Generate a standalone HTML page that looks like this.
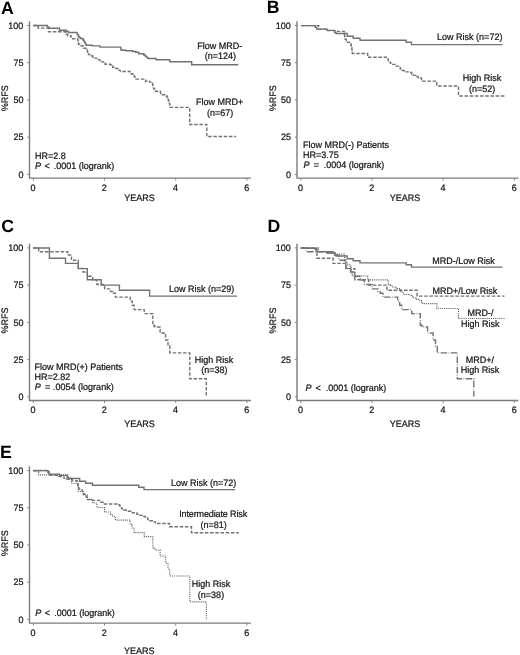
<!DOCTYPE html>
<html><head><meta charset="utf-8"><title>RFS curves</title>
<style>
html,body{margin:0;padding:0;background:#fff;}
body{width:520px;height:655px;overflow:hidden;}
svg{display:block;will-change:transform;}
text{font-family:"Liberation Sans",sans-serif;text-rendering:geometricPrecision;}
</style></head><body>
<svg width="520" height="655" viewBox="0 0 520 655">
<rect width="520" height="655" fill="#fff"/>
<g font-family="Liberation Sans, sans-serif" font-size="9.0" fill="#141414" stroke="#141414" stroke-width="0.22">
<g font-weight="bold" font-size="17.7" fill="#000" stroke="none"><text x="1.1" y="13.6">A</text><text x="266.8" y="12.7">B</text><text x="1.2" y="232.1">C</text><text x="267.4" y="231.9">D</text><text x="-0.1" y="458.1">E</text></g>
<path d="M29.5 21.3 V178.1 H250.9" fill="none" stroke="#7c7c7c" stroke-width="1.4"/>
<path d="M27.2 25.50 H29.5 M27.2 62.73 H29.5 M27.2 99.95 H29.5 M27.2 137.18 H29.5 M27.2 174.40 H29.5 M33.30 178.1 V180.6 M104.50 178.1 V180.6 M175.70 178.1 V180.6 M246.90 178.1 V180.6 " fill="none" stroke="#7c7c7c" stroke-width="0.9"/>
<text transform="matrix(1 0 0 1.04 0 -1.148)" x="23.4" y="28.70" text-anchor="end">100</text>
<text transform="matrix(1 0 0 1.04 0 -2.637)" x="23.4" y="65.93" text-anchor="end">75</text>
<text transform="matrix(1 0 0 1.04 0 -4.126)" x="23.4" y="103.15" text-anchor="end">50</text>
<text transform="matrix(1 0 0 1.04 0 -5.615)" x="23.4" y="140.38" text-anchor="end">25</text>
<text transform="matrix(1 0 0 1.04 0 -7.104)" x="23.4" y="177.60" text-anchor="end">0</text>
<text transform="matrix(1 0 0 1.04 0 -7.624)" x="33.10" y="190.6" text-anchor="middle">0</text>
<text transform="matrix(1 0 0 1.04 0 -7.624)" x="104.30" y="190.6" text-anchor="middle">2</text>
<text transform="matrix(1 0 0 1.04 0 -7.624)" x="175.50" y="190.6" text-anchor="middle">4</text>
<text transform="matrix(1 0 0 1.04 0 -7.624)" x="246.70" y="190.6" text-anchor="middle">6</text>
<text transform="translate(8.1 98.2) rotate(-90) scale(1 1.04)" text-anchor="middle">%RFS</text>
<path d="M297.0 21.3 V178.1 H518.4" fill="none" stroke="#7c7c7c" stroke-width="1.4"/>
<path d="M294.7 25.50 H297.0 M294.7 62.73 H297.0 M294.7 99.95 H297.0 M294.7 137.18 H297.0 M294.7 174.40 H297.0 M300.80 178.1 V180.6 M372.00 178.1 V180.6 M443.20 178.1 V180.6 M514.40 178.1 V180.6 " fill="none" stroke="#7c7c7c" stroke-width="0.9"/>
<text transform="matrix(1 0 0 1.04 0 -1.148)" x="290.9" y="28.70" text-anchor="end">100</text>
<text transform="matrix(1 0 0 1.04 0 -2.637)" x="290.9" y="65.93" text-anchor="end">75</text>
<text transform="matrix(1 0 0 1.04 0 -4.126)" x="290.9" y="103.15" text-anchor="end">50</text>
<text transform="matrix(1 0 0 1.04 0 -5.615)" x="290.9" y="140.38" text-anchor="end">25</text>
<text transform="matrix(1 0 0 1.04 0 -7.104)" x="290.9" y="177.60" text-anchor="end">0</text>
<text transform="matrix(1 0 0 1.04 0 -7.624)" x="300.60" y="190.6" text-anchor="middle">0</text>
<text transform="matrix(1 0 0 1.04 0 -7.624)" x="371.80" y="190.6" text-anchor="middle">2</text>
<text transform="matrix(1 0 0 1.04 0 -7.624)" x="443.00" y="190.6" text-anchor="middle">4</text>
<text transform="matrix(1 0 0 1.04 0 -7.624)" x="514.20" y="190.6" text-anchor="middle">6</text>
<text transform="translate(275.6 98.2) rotate(-90) scale(1 1.04)" text-anchor="middle">%RFS</text>
<path d="M29.5 243.70000000000002 V400.5 H250.9" fill="none" stroke="#7c7c7c" stroke-width="1.4"/>
<path d="M27.2 247.90 H29.5 M27.2 285.12 H29.5 M27.2 322.35 H29.5 M27.2 359.58 H29.5 M27.2 396.80 H29.5 M33.30 400.5 V403.0 M104.50 400.5 V403.0 M175.70 400.5 V403.0 M246.90 400.5 V403.0 " fill="none" stroke="#7c7c7c" stroke-width="0.9"/>
<text transform="matrix(1 0 0 1.04 0 -10.044)" x="23.4" y="251.10" text-anchor="end">100</text>
<text transform="matrix(1 0 0 1.04 0 -11.533)" x="23.4" y="288.32" text-anchor="end">75</text>
<text transform="matrix(1 0 0 1.04 0 -13.022)" x="23.4" y="325.55" text-anchor="end">50</text>
<text transform="matrix(1 0 0 1.04 0 -14.511)" x="23.4" y="362.78" text-anchor="end">25</text>
<text transform="matrix(1 0 0 1.04 0 -16.000)" x="23.4" y="400.00" text-anchor="end">0</text>
<text transform="matrix(1 0 0 1.04 0 -16.520)" x="33.10" y="413.0" text-anchor="middle">0</text>
<text transform="matrix(1 0 0 1.04 0 -16.520)" x="104.30" y="413.0" text-anchor="middle">2</text>
<text transform="matrix(1 0 0 1.04 0 -16.520)" x="175.50" y="413.0" text-anchor="middle">4</text>
<text transform="matrix(1 0 0 1.04 0 -16.520)" x="246.70" y="413.0" text-anchor="middle">6</text>
<text transform="translate(8.1 320.6) rotate(-90) scale(1 1.04)" text-anchor="middle">%RFS</text>
<path d="M297.0 243.70000000000002 V400.5 H518.4" fill="none" stroke="#7c7c7c" stroke-width="1.4"/>
<path d="M294.7 247.90 H297.0 M294.7 285.12 H297.0 M294.7 322.35 H297.0 M294.7 359.58 H297.0 M294.7 396.80 H297.0 M300.80 400.5 V403.0 M372.00 400.5 V403.0 M443.20 400.5 V403.0 M514.40 400.5 V403.0 " fill="none" stroke="#7c7c7c" stroke-width="0.9"/>
<text transform="matrix(1 0 0 1.04 0 -10.044)" x="290.9" y="251.10" text-anchor="end">100</text>
<text transform="matrix(1 0 0 1.04 0 -11.533)" x="290.9" y="288.32" text-anchor="end">75</text>
<text transform="matrix(1 0 0 1.04 0 -13.022)" x="290.9" y="325.55" text-anchor="end">50</text>
<text transform="matrix(1 0 0 1.04 0 -14.511)" x="290.9" y="362.78" text-anchor="end">25</text>
<text transform="matrix(1 0 0 1.04 0 -16.000)" x="290.9" y="400.00" text-anchor="end">0</text>
<text transform="matrix(1 0 0 1.04 0 -16.520)" x="300.60" y="413.0" text-anchor="middle">0</text>
<text transform="matrix(1 0 0 1.04 0 -16.520)" x="371.80" y="413.0" text-anchor="middle">2</text>
<text transform="matrix(1 0 0 1.04 0 -16.520)" x="443.00" y="413.0" text-anchor="middle">4</text>
<text transform="matrix(1 0 0 1.04 0 -16.520)" x="514.20" y="413.0" text-anchor="middle">6</text>
<text transform="translate(275.6 320.6) rotate(-90) scale(1 1.04)" text-anchor="middle">%RFS</text>
<path d="M29.5 466.3 V623.1 H250.9" fill="none" stroke="#7c7c7c" stroke-width="1.4"/>
<path d="M27.2 470.50 H29.5 M27.2 507.73 H29.5 M27.2 544.95 H29.5 M27.2 582.17 H29.5 M27.2 619.40 H29.5 M33.30 623.1 V625.6 M104.50 623.1 V625.6 M175.70 623.1 V625.6 M246.90 623.1 V625.6 " fill="none" stroke="#7c7c7c" stroke-width="0.9"/>
<text transform="matrix(1 0 0 1.04 0 -18.948)" x="23.4" y="473.70" text-anchor="end">100</text>
<text transform="matrix(1 0 0 1.04 0 -20.437)" x="23.4" y="510.93" text-anchor="end">75</text>
<text transform="matrix(1 0 0 1.04 0 -21.926)" x="23.4" y="548.15" text-anchor="end">50</text>
<text transform="matrix(1 0 0 1.04 0 -23.415)" x="23.4" y="585.38" text-anchor="end">25</text>
<text transform="matrix(1 0 0 1.04 0 -24.904)" x="23.4" y="622.60" text-anchor="end">0</text>
<text transform="matrix(1 0 0 1.04 0 -25.424)" x="33.10" y="635.6" text-anchor="middle">0</text>
<text transform="matrix(1 0 0 1.04 0 -25.424)" x="104.30" y="635.6" text-anchor="middle">2</text>
<text transform="matrix(1 0 0 1.04 0 -25.424)" x="175.50" y="635.6" text-anchor="middle">4</text>
<text transform="matrix(1 0 0 1.04 0 -25.424)" x="246.70" y="635.6" text-anchor="middle">6</text>
<text transform="translate(8.1 543.2) rotate(-90) scale(1 1.04)" text-anchor="middle">%RFS</text>
<path d="M33.20 25.50 L47.30 25.50 L47.30 26.90 L48.80 26.90 L48.80 28.30 L59.40 28.30 L59.40 30.20 L66.50 30.20 L66.50 31.50 L68.50 31.50 L68.50 32.50 L76.20 32.50 L76.97 32.50 L76.97 33.83 L77.73 33.83 L77.73 35.17 L78.50 35.17 L78.50 36.50 L79.45 36.50 L79.45 37.50 L80.40 37.50 L80.40 38.50 L82.30 38.50 L82.30 38.80 L83.05 38.80 L83.05 40.00 L83.80 40.00 L83.80 41.20 L84.60 41.20 L84.60 42.53 L85.40 42.53 L85.40 43.87 L86.20 43.87 L86.20 45.20 L92.30 45.20 L92.30 45.90 L100.00 45.90 L100.00 47.10 L120.80 47.10 L120.80 49.80 L122.00 49.80 L122.00 50.20 L125.80 50.20 L125.80 50.80 L132.70 50.80 L132.70 51.50 L135.80 51.50 L135.80 52.30 L138.70 52.30 L138.70 53.80 L143.80 53.80 L143.80 55.00 L145.17 55.00 L145.17 56.17 L146.53 56.17 L146.53 57.33 L147.90 57.33 L147.90 58.50 L154.20 58.50 L156.00 58.50 L156.00 59.80 L169.80 59.80 L169.80 61.70 L191.70 61.70 L191.70 64.80 L238.30 64.80" fill="none" stroke="#727272" stroke-width="1.4"/>
<path d="M33.20 25.50 L38.10 25.50 L38.10 28.10 L48.50 28.10 L48.50 31.80 L65.00 31.80 L65.60 31.80 L65.60 33.00 L66.20 33.00 L66.20 34.20 L67.70 34.20 L67.70 35.80 L70.80 35.80 L70.80 36.90 L72.70 36.90 L72.70 38.80 L77.70 38.80 L77.70 39.60 L77.90 39.60 L77.90 40.75 L78.10 40.75 L78.10 41.90 L78.30 41.90 L78.30 43.05 L78.50 43.05 L78.50 44.20 L79.60 44.20 L79.60 45.80 L82.30 45.80 L82.90 45.80 L82.90 46.95 L83.50 46.95 L83.50 48.10 L85.40 48.10 L85.40 48.50 L86.35 48.50 L86.35 49.85 L87.30 49.85 L87.30 51.20 L87.70 51.20 L87.70 52.33 L88.10 52.33 L88.10 53.47 L88.50 53.47 L88.50 54.60 L91.50 54.60 L91.50 55.80 L92.65 55.80 L92.65 56.95 L93.80 56.95 L93.80 58.10 L97.70 58.10 L97.70 59.20 L98.10 59.20 L98.10 59.60 L100.00 59.60 L100.00 60.75 L101.90 60.75 L101.90 61.90 L103.45 61.90 L103.45 63.05 L105.00 63.05 L105.00 64.20 L110.40 64.20 L110.40 65.00 L111.55 65.00 L111.55 66.15 L112.70 66.15 L112.70 67.30 L115.80 67.30 L115.80 68.50 L119.20 68.50 L119.20 70.40 L120.40 70.40 L120.40 71.50 L128.80 71.50 L130.00 71.50 L130.00 72.65 L131.20 72.65 L131.20 73.80 L132.75 73.80 L132.75 75.35 L134.30 75.35 L134.30 76.90 L135.20 76.90 L135.20 78.00 L136.10 78.00 L136.10 79.10 L143.40 79.10 L144.50 79.10 L144.50 80.15 L145.60 80.15 L145.60 81.20 L149.50 81.20 L149.50 82.10 L151.00 82.10 L151.00 83.20 L152.50 83.20 L152.50 84.30 L152.82 84.30 L152.82 85.47 L153.15 85.47 L153.15 86.65 L153.48 86.65 L153.48 87.83 L153.80 87.83 L153.80 89.00 L154.65 89.00 L154.65 90.10 L155.50 90.10 L155.50 91.20 L159.80 91.20 L160.23 91.20 L160.23 92.37 L160.67 92.37 L160.67 93.53 L161.10 93.53 L161.10 94.70 L166.30 94.70 L166.30 96.00 L166.90 96.00 L166.90 97.27 L167.50 97.27 L167.50 98.53 L168.10 98.53 L168.10 99.80 L168.53 99.80 L168.53 100.97 L168.97 100.97 L168.97 102.13 L169.40 102.13 L169.40 103.30 L169.57 103.30 L169.57 104.67 L169.73 104.67 L169.73 106.03 L169.90 106.03 L169.90 107.40 L189.70 107.40 L189.70 124.50 L206.80 124.50 L206.80 136.50 L236.10 136.50" fill="none" stroke="#727272" stroke-width="1.4" stroke-dasharray="3.5 1.7"/>
<text transform="matrix(1 0 0 1.04 0 -1.960)" x="219.85" y="49.0" text-anchor="middle">Flow MRD-</text>
<text transform="matrix(1 0 0 1.04 0 -2.368)" x="220.35" y="59.2" text-anchor="middle">(n=124)</text>
<text transform="matrix(1 0 0 1.04 0 -4.216)" x="219.65" y="105.4" text-anchor="middle">Flow MRD+</text>
<text transform="matrix(1 0 0 1.04 0 -4.652)" x="220.05" y="116.3" text-anchor="middle">(n=67)</text>
<text transform="matrix(1 0 0 1.04 0 -6.368)" x="35.0" y="159.2">HR=2.8</text>
<text transform="matrix(1 0 0 1.04 0 -6.760)" y="169.0"><tspan x="35.0" font-style="italic">P</tspan><tspan x="44.5">&lt;</tspan><tspan x="53.8">.0001 (logrank)</tspan></text>
<path d="M300.90 25.60 L315.30 25.60 L315.30 27.30 L316.70 27.30 L316.70 29.10 L327.10 29.10 L327.10 30.40 L334.60 30.40 L334.60 32.50 L336.00 32.50 L336.00 33.50 L347.20 33.50 L347.20 36.20 L353.20 36.20 L353.20 38.20 L360.00 38.20 L360.00 40.30 L406.20 40.30 L406.20 42.20 L411.50 42.20 L411.50 44.60 L502.70 44.60" fill="none" stroke="#727272" stroke-width="1.4"/>
<path d="M300.90 25.60 L318.70 25.60 L318.70 29.10 L326.50 29.10 L326.50 30.60 L335.00 30.60 L335.00 31.40 L344.40 31.40 L344.40 34.40 L344.57 34.40 L344.57 35.60 L344.75 35.60 L344.75 36.80 L344.93 36.80 L344.93 38.00 L345.10 38.00 L345.10 39.20 L346.30 39.20 L346.30 40.75 L347.50 40.75 L347.50 42.30 L349.90 42.30 L350.45 42.30 L350.45 43.65 L351.00 43.65 L351.00 45.00 L351.27 45.00 L351.27 46.27 L351.53 46.27 L351.53 47.53 L351.80 47.53 L351.80 48.80 L351.93 48.80 L351.93 49.97 L352.05 49.97 L352.05 51.15 L352.18 51.15 L352.18 52.33 L352.30 52.33 L352.30 53.50 L367.70 53.50 L367.70 57.30 L388.20 57.30 L388.20 62.10 L390.45 62.10 L390.45 63.25 L392.70 63.25 L392.70 64.40 L396.10 64.40 L396.10 66.10 L400.20 66.10 L400.20 69.00 L402.20 69.00 L402.20 70.45 L404.20 70.45 L404.20 71.90 L410.00 71.90 L410.00 72.50 L411.70 72.50 L411.70 73.95 L413.40 73.95 L413.40 75.40 L415.75 75.40 L415.75 76.55 L418.10 76.55 L418.10 77.70 L420.40 77.70 L420.40 78.00 L421.55 78.00 L421.55 79.55 L422.70 79.55 L422.70 81.10 L436.80 81.10 L436.80 86.00 L458.50 86.00 L458.50 96.00 L505.60 96.00" fill="none" stroke="#727272" stroke-width="1.4" stroke-dasharray="3.5 1.7"/>
<text transform="matrix(1 0 0 1.04 0 -1.616)" x="469.75" y="40.4" text-anchor="middle">Low Risk (n=72)</text>
<text transform="matrix(1 0 0 1.04 0 -3.228)" x="482.0" y="80.7" text-anchor="middle">High Risk</text>
<text transform="matrix(1 0 0 1.04 0 -3.672)" x="482.2" y="91.8" text-anchor="middle">(n=52)</text>
<text transform="matrix(1 0 0 1.04 0 -5.924)" x="303.0" y="148.1">Flow MRD(-) Patients</text>
<text transform="matrix(1 0 0 1.04 0 -6.336)" x="303.0" y="158.4">HR=3.75</text>
<text transform="matrix(1 0 0 1.04 0 -6.724)" y="168.1"><tspan x="303.5" font-style="italic">P</tspan><tspan x="313.8">=</tspan><tspan x="323.7">.0004 (logrank)</tspan></text>
<path d="M33.20 248.00 L49.40 248.00 L49.40 258.20 L65.50 258.20 L65.50 263.40 L78.20 263.40 L78.20 268.60 L87.30 268.60 L87.30 279.80 L101.20 279.80 L101.20 285.10 L119.40 285.10 L119.40 290.30 L149.60 290.30 L149.60 296.10 L237.00 296.10" fill="none" stroke="#727272" stroke-width="1.4"/>
<path d="M33.20 248.00 L38.70 248.00 L38.70 251.80 L67.80 251.80 L67.80 255.00 L71.50 255.00 L71.50 260.20 L78.30 260.20 L78.30 268.40 L83.00 268.40 L83.00 272.00 L87.30 272.00 L87.30 276.30 L92.70 276.30 L92.70 280.00 L96.90 280.00 L96.90 284.50 L104.60 284.50 L104.60 288.90 L110.40 288.90 L110.40 291.50 L112.70 291.50 L112.70 293.20 L115.40 293.20 L115.40 297.10 L130.20 297.10 L130.20 301.20 L132.20 301.20 L132.20 305.20 L134.20 305.20 L134.20 309.60 L144.20 309.60 L144.20 313.60 L152.80 313.60 L152.80 325.00 L153.90 325.00 L153.90 326.00 L155.00 326.00 L155.00 327.00 L160.10 327.00 L160.10 333.00 L165.60 333.00 L165.60 340.00 L168.00 340.00 L168.00 346.00 L169.80 346.00 L169.80 352.90 L189.80 352.90 L189.80 378.80 L206.30 378.80 L206.30 396.60" fill="none" stroke="#727272" stroke-width="1.4" stroke-dasharray="3.5 1.7"/>
<text transform="matrix(1 0 0 1.04 0 -11.672)" x="201.6" y="291.8" text-anchor="middle">Low Risk (n=29)</text>
<text transform="matrix(1 0 0 1.04 0 -14.504)" x="213.9" y="362.6" text-anchor="middle">High Risk</text>
<text transform="matrix(1 0 0 1.04 0 -14.908)" x="214.4" y="372.7" text-anchor="middle">(n=38)</text>
<text transform="matrix(1 0 0 1.04 0 -14.800)" x="34.6" y="370.0">Flow MRD(+) Patients</text>
<text transform="matrix(1 0 0 1.04 0 -15.196)" x="34.6" y="379.9">HR=2.82</text>
<text transform="matrix(1 0 0 1.04 0 -15.584)" y="389.6"><tspan x="34.8" font-style="italic">P</tspan><tspan x="45.1">=</tspan><tspan x="53.1">.0054 (logrank)</tspan></text>
<path d="M300.90 248.15 L315.30 248.15 L315.30 249.85 L316.70 249.85 L316.70 251.65 L327.10 251.65 L327.10 252.95 L334.60 252.95 L334.60 255.05 L336.00 255.05 L336.00 256.05 L347.20 256.05 L347.20 258.75 L353.20 258.75 L353.20 260.75 L360.00 260.75 L360.00 262.85 L406.20 262.85 L406.20 264.75 L411.50 264.75 L411.50 267.15 L502.70 267.15" fill="none" stroke="#727272" stroke-width="1.4"/>
<path d="M300.70 248.00 L316.90 248.00 L316.90 258.20 L333.00 258.20 L333.00 263.40 L345.70 263.40 L345.70 268.60 L354.80 268.60 L354.80 279.80 L368.70 279.80 L368.70 285.10 L386.90 285.10 L386.90 290.30 L417.10 290.30 L417.10 296.10 L504.50 296.10" fill="none" stroke="#727272" stroke-width="1.4" stroke-dasharray="3.5 1.7"/>
<path d="M300.90 248.15 L318.70 248.15 L318.70 251.65 L326.50 251.65 L326.50 253.15 L335.00 253.15 L335.00 253.95 L344.40 253.95 L344.40 256.95 L344.57 256.95 L344.57 258.15 L344.75 258.15 L344.75 259.35 L344.93 259.35 L344.93 260.55 L345.10 260.55 L345.10 261.75 L346.30 261.75 L346.30 263.30 L347.50 263.30 L347.50 264.85 L349.90 264.85 L350.45 264.85 L350.45 266.20 L351.00 266.20 L351.00 267.55 L351.27 267.55 L351.27 268.82 L351.53 268.82 L351.53 270.08 L351.80 270.08 L351.80 271.35 L351.93 271.35 L351.93 272.52 L352.05 272.52 L352.05 273.70 L352.18 273.70 L352.18 274.88 L352.30 274.88 L352.30 276.05 L367.70 276.05 L367.70 279.85 L388.20 279.85 L388.20 284.65 L390.45 284.65 L390.45 285.80 L392.70 285.80 L392.70 286.95 L396.10 286.95 L396.10 288.65 L400.20 288.65 L400.20 291.55 L402.20 291.55 L402.20 293.00 L404.20 293.00 L404.20 294.45 L410.00 294.45 L410.00 295.05 L411.70 295.05 L411.70 296.50 L413.40 296.50 L413.40 297.95 L415.75 297.95 L415.75 299.10 L418.10 299.10 L418.10 300.25 L420.40 300.25 L420.40 300.55 L421.55 300.55 L421.55 302.10 L422.70 302.10 L422.70 303.65 L436.80 303.65 L436.80 308.55 L458.50 308.55 L458.50 318.55 L505.60 318.55" fill="none" stroke="#5e5e5e" stroke-width="1.1" stroke-dasharray="1.05 1.05"/>
<path d="M300.70 248.00 L306.20 248.00 L306.20 251.80 L335.30 251.80 L335.30 255.00 L339.00 255.00 L339.00 260.20 L345.80 260.20 L345.80 268.40 L350.50 268.40 L350.50 272.00 L354.80 272.00 L354.80 276.30 L360.20 276.30 L360.20 280.00 L364.40 280.00 L364.40 284.50 L372.10 284.50 L372.10 288.90 L377.90 288.90 L377.90 291.50 L380.20 291.50 L380.20 293.20 L382.90 293.20 L382.90 297.10 L397.70 297.10 L397.70 301.20 L399.70 301.20 L399.70 305.20 L401.70 305.20 L401.70 309.60 L411.70 309.60 L411.70 313.60 L420.30 313.60 L420.30 325.00 L421.40 325.00 L421.40 326.00 L422.50 326.00 L422.50 327.00 L427.60 327.00 L427.60 333.00 L433.10 333.00 L433.10 340.00 L435.50 340.00 L435.50 346.00 L437.30 346.00 L437.30 352.90 L457.30 352.90 L457.30 378.80 L473.80 378.80 L473.80 396.60" fill="none" stroke="#727272" stroke-width="1.4" stroke-dasharray="6.5 1.5 0.7 1.5"/>
<text transform="matrix(1 0 0 1.04 0 -10.568)" x="463.6" y="264.2" text-anchor="middle">MRD-/Low Risk</text>
<text transform="matrix(1 0 0 1.04 0 -11.740)" x="465.0" y="293.5" text-anchor="middle">MRD+/Low Risk</text>
<text transform="matrix(1 0 0 1.04 0 -12.636)" x="480.6" y="315.9" text-anchor="middle">MRD-/</text>
<text transform="matrix(1 0 0 1.04 0 -13.068)" x="480.3" y="326.7" text-anchor="middle">High Risk</text>
<text transform="matrix(1 0 0 1.04 0 -14.508)" x="479.9" y="362.7" text-anchor="middle">MRD+/</text>
<text transform="matrix(1 0 0 1.04 0 -14.928)" x="479.95" y="373.2" text-anchor="middle">High Risk</text>
<text transform="matrix(1 0 0 1.04 0 -15.640)" y="391.0"><tspan x="305.5" font-style="italic">P</tspan><tspan x="315.4">&lt;</tspan><tspan x="325.7">.0001 (logrank)</tspan></text>
<path d="M33.40 470.60 L47.80 470.60 L47.80 472.30 L49.20 472.30 L49.20 474.10 L59.60 474.10 L59.60 475.40 L67.10 475.40 L67.10 477.50 L68.50 477.50 L68.50 478.50 L79.70 478.50 L79.70 481.20 L85.70 481.20 L85.70 483.20 L92.50 483.20 L92.50 485.30 L138.70 485.30 L138.70 487.20 L144.00 487.20 L144.00 489.60 L235.20 489.60" fill="none" stroke="#727272" stroke-width="1.4"/>
<path d="M33.20 470.50 L48.30 470.50 L48.70 470.50 L48.70 471.87 L49.10 471.87 L49.10 473.23 L49.50 473.23 L49.50 474.60 L50.20 474.60 L50.20 475.40 L58.80 475.40 L58.80 476.30 L61.10 476.30 L61.10 477.10 L64.00 477.10 L64.00 478.15 L66.90 478.15 L66.90 479.20 L72.10 479.20 L72.10 480.80 L76.90 480.80 L77.17 480.80 L77.17 482.20 L77.43 482.20 L77.43 483.60 L77.70 483.60 L77.70 485.00 L78.07 485.00 L78.07 486.40 L78.43 486.40 L78.43 487.80 L78.80 487.80 L78.80 489.20 L81.90 489.20 L81.90 490.00 L82.30 490.00 L82.30 491.15 L82.70 491.15 L82.70 492.30 L83.80 492.30 L83.80 494.20 L85.00 494.20 L85.00 495.20 L86.20 495.20 L86.20 496.20 L86.70 496.20 L86.70 497.33 L87.20 497.33 L87.20 498.47 L87.70 498.47 L87.70 499.60 L92.30 499.60 L92.30 500.40 L99.20 500.40 L100.80 500.40 L100.80 502.30 L103.10 502.30 L103.10 504.00 L118.50 504.00 L119.25 504.00 L119.25 505.20 L120.00 505.20 L120.00 506.40 L120.75 506.40 L120.75 507.60 L121.50 507.60 L121.50 508.80 L123.85 508.80 L123.85 510.00 L126.20 510.00 L126.20 511.20 L132.30 511.20 L132.30 512.70 L136.90 512.70 L136.90 514.20 L140.00 514.20 L140.00 515.35 L143.10 515.35 L143.10 516.50 L145.40 516.50 L145.40 518.05 L147.70 518.05 L147.70 519.60 L150.00 519.60 L150.00 520.75 L152.30 520.75 L152.30 521.90 L155.40 521.90 L155.40 523.50 L169.50 523.50 L169.50 526.80 L191.50 526.80 L191.50 532.80 L238.70 532.80" fill="none" stroke="#727272" stroke-width="1.4" stroke-dasharray="3.5 1.7"/>
<path d="M33.20 471.05 L38.70 471.05 L38.70 474.85 L67.80 474.85 L67.80 478.05 L71.50 478.05 L71.50 483.25 L78.30 483.25 L78.30 491.45 L83.00 491.45 L83.00 495.05 L87.30 495.05 L87.30 499.35 L92.70 499.35 L92.70 503.05 L96.90 503.05 L96.90 507.55 L104.60 507.55 L104.60 511.95 L110.40 511.95 L110.40 514.55 L112.70 514.55 L112.70 516.25 L115.40 516.25 L115.40 520.15 L130.20 520.15 L130.20 524.25 L132.20 524.25 L132.20 528.25 L134.20 528.25 L134.20 532.65 L144.20 532.65 L144.20 536.65 L152.80 536.65 L152.80 548.05 L153.90 548.05 L153.90 549.05 L155.00 549.05 L155.00 550.05 L160.10 550.05 L160.10 556.05 L165.60 556.05 L165.60 563.05 L168.00 563.05 L168.00 569.05 L169.80 569.05 L169.80 575.95 L189.80 575.95 L189.80 601.85 L206.30 601.85 L206.30 619.65" fill="none" stroke="#5e5e5e" stroke-width="1.1" stroke-dasharray="1.05 1.05"/>
<text transform="matrix(1 0 0 1.04 0 -19.440)" x="203.6" y="486.0" text-anchor="middle">Low Risk (n=72)</text>
<text transform="matrix(1 0 0 1.04 0 -20.684)" x="213.15" y="517.1" text-anchor="middle" letter-spacing="-0.12">Intermediate Risk</text>
<text transform="matrix(1 0 0 1.04 0 -21.116)" x="213.6" y="527.9" text-anchor="middle">(n=81)</text>
<text transform="matrix(1 0 0 1.04 0 -23.496)" x="211.0" y="587.4" text-anchor="middle">High Risk</text>
<text transform="matrix(1 0 0 1.04 0 -23.936)" x="211.0" y="598.4" text-anchor="middle">(n=38)</text>
<text transform="matrix(1 0 0 1.04 0 -24.624)" y="615.6"><tspan x="35.2" font-style="italic">P</tspan><tspan x="44.7">&lt;</tspan><tspan x="54.3">.0001 (logrank)</tspan></text>
<text transform="matrix(1 0 0 1.04 0 -8.036)" x="139.4" y="200.9" text-anchor="middle">YEARS</text>
<text transform="matrix(1 0 0 1.04 0 -8.036)" x="404.9" y="200.9" text-anchor="middle">YEARS</text>
<text transform="matrix(1 0 0 1.04 0 -17.092)" x="139.4" y="427.3" text-anchor="middle">YEARS</text>
<text transform="matrix(1 0 0 1.04 0 -17.092)" x="404.9" y="427.3" text-anchor="middle">YEARS</text>
<text transform="matrix(1 0 0 1.04 0 -26.148)" x="139.3" y="653.7" text-anchor="middle">YEARS</text>
</g>
</svg>
</body></html>
